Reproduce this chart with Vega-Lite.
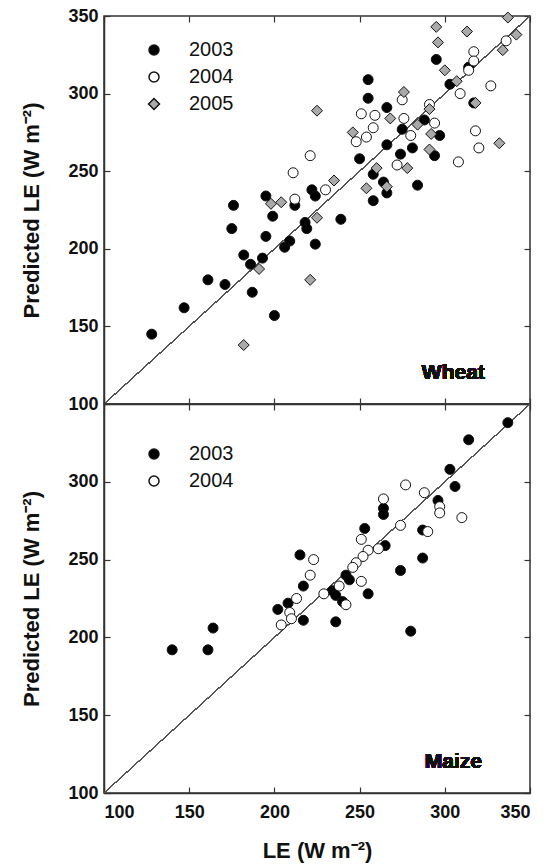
{
  "$schema": "https://vega.github.io/schema/vega-lite/v6.json",
  "background": "white",
  "padding": {"left": 20, "top": 6, "right": 6, "bottom": 1},
  "spacing": 0,
  "bounds": "flush",
  "config": {
    "font": "Liberation Sans",
    "view": {"stroke": "#333", "strokeWidth": 1.5},
    "axis": {
      "grid": false,
      "minExtent": 0,
      "labelFont": "Liberation Sans",
      "labelFontWeight": "bold",
      "labelFontSize": 18,
      "labelColor": "#111",
      "titleFont": "Liberation Sans",
      "titleFontWeight": "bold",
      "titleFontSize": 22,
      "titleColor": "#111",
      "domainColor": "#333",
      "domainWidth": 1.5,
      "tickColor": "#333",
      "tickWidth": 1.2
    }
  },
  "resolve": {
    "scale": {"shape": "independent", "fill": "independent"},
    "legend": {"shape": "independent", "fill": "independent"}
  },
  "vconcat": [
    {
      "width": 426,
      "height": 388,
      "data": {"values": [
        {"le":128,"pred":145,"year":"2003"},{"le":147,"pred":162,"year":"2003"},{"le":161,"pred":180,"year":"2003"},{"le":171,"pred":177,"year":"2003"},{"le":187,"pred":172,"year":"2003"},{"le":200,"pred":157,"year":"2003"},{"le":182,"pred":196,"year":"2003"},{"le":186,"pred":190,"year":"2003"},{"le":193,"pred":194,"year":"2003"},{"le":175,"pred":213,"year":"2003"},{"le":176,"pred":228,"year":"2003"},{"le":195,"pred":208,"year":"2003"},{"le":199,"pred":221,"year":"2003"},{"le":195,"pred":234,"year":"2003"},{"le":206,"pred":201,"year":"2003"},{"le":209,"pred":205,"year":"2003"},{"le":212,"pred":228,"year":"2003"},{"le":218,"pred":217,"year":"2003"},{"le":219,"pred":213,"year":"2003"},{"le":224,"pred":203,"year":"2003"},{"le":222,"pred":238,"year":"2003"},{"le":224,"pred":234,"year":"2003"},{"le":239,"pred":219,"year":"2003"},{"le":258,"pred":231,"year":"2003"},{"le":250,"pred":258,"year":"2003"},{"le":258,"pred":248,"year":"2003"},{"le":264,"pred":243,"year":"2003"},{"le":266,"pred":236,"year":"2003"},{"le":284,"pred":241,"year":"2003"},{"le":274,"pred":261,"year":"2003"},{"le":266,"pred":267,"year":"2003"},{"le":281,"pred":265,"year":"2003"},{"le":294,"pred":260,"year":"2003"},{"le":275,"pred":277,"year":"2003"},{"le":297,"pred":273,"year":"2003"},{"le":288,"pred":283,"year":"2003"},{"le":266,"pred":291,"year":"2003"},{"le":255,"pred":297,"year":"2003"},{"le":317,"pred":294,"year":"2003"},{"le":303,"pred":306,"year":"2003"},{"le":255,"pred":309,"year":"2003"},{"le":314,"pred":317,"year":"2003"},{"le":295,"pred":322,"year":"2003"},
        {"le":221,"pred":260,"year":"2004"},{"le":211,"pred":249,"year":"2004"},{"le":212,"pred":232,"year":"2004"},{"le":336,"pred":334,"year":"2004"},{"le":317,"pred":327,"year":"2004"},{"le":317,"pred":321,"year":"2004"},{"le":314,"pred":315,"year":"2004"},{"le":327,"pred":305,"year":"2004"},{"le":309,"pred":300,"year":"2004"},{"le":275,"pred":296,"year":"2004"},{"le":291,"pred":293,"year":"2004"},{"le":251,"pred":287,"year":"2004"},{"le":259,"pred":286,"year":"2004"},{"le":276,"pred":284,"year":"2004"},{"le":258,"pred":278,"year":"2004"},{"le":294,"pred":281,"year":"2004"},{"le":248,"pred":269,"year":"2004"},{"le":254,"pred":272,"year":"2004"},{"le":280,"pred":273,"year":"2004"},{"le":318,"pred":276,"year":"2004"},{"le":320,"pred":265,"year":"2004"},{"le":308,"pred":256,"year":"2004"},{"le":272,"pred":254,"year":"2004"},{"le":230,"pred":238,"year":"2004"},
        {"le":337,"pred":349,"year":"2005"},{"le":295,"pred":343,"year":"2005"},{"le":313,"pred":340,"year":"2005"},{"le":342,"pred":338,"year":"2005"},{"le":296,"pred":333,"year":"2005"},{"le":334,"pred":328,"year":"2005"},{"le":300,"pred":315,"year":"2005"},{"le":307,"pred":308,"year":"2005"},{"le":276,"pred":301,"year":"2005"},{"le":318,"pred":294,"year":"2005"},{"le":291,"pred":290,"year":"2005"},{"le":225,"pred":289,"year":"2005"},{"le":268,"pred":284,"year":"2005"},{"le":284,"pred":280,"year":"2005"},{"le":246,"pred":275,"year":"2005"},{"le":292,"pred":274,"year":"2005"},{"le":291,"pred":264,"year":"2005"},{"le":332,"pred":268,"year":"2005"},{"le":260,"pred":252,"year":"2005"},{"le":278,"pred":252,"year":"2005"},{"le":235,"pred":244,"year":"2005"},{"le":254,"pred":239,"year":"2005"},{"le":266,"pred":240,"year":"2005"},{"le":225,"pred":220,"year":"2005"},{"le":198,"pred":229,"year":"2005"},{"le":204,"pred":230,"year":"2005"},{"le":191,"pred":187,"year":"2005"},{"le":221,"pred":180,"year":"2005"},{"le":182,"pred":138,"year":"2005"}
      ]},
      "layer": [
        {
          "mark": {"type": "rule", "color": "#555", "strokeWidth": 1},
          "encoding": {
            "x": {"datum": 100, "type": "quantitative", "scale": {"domain": [100, 350], "nice": false, "zero": false},
                  "axis": {"orient": "top", "labels": false, "title": null, "domain": false, "tickSize": -6, "values": [100,150,200,250,300,350]}},
            "y": {"datum": 100, "type": "quantitative", "scale": {"domain": [100, 350], "nice": false, "zero": false},
                  "axis": {"orient": "right", "labels": false, "title": null, "domain": false, "tickSize": -6, "values": [100,150,200,250,300,350]}},
            "x2": {"datum": 350},
            "y2": {"datum": 350}
          }
        },
        {
          "mark": {"type": "point", "filled": true, "stroke": "#111", "strokeWidth": 1, "size": 100, "opacity": 1},
          "encoding": {
            "x": {"field": "le", "type": "quantitative", "scale": {"domain": [100, 350], "nice": false, "zero": false},
                  "axis": {"orient": "bottom", "labels": false, "title": null, "tickSize": -6, "values": [100,150,200,250,300,350]}},
            "y": {"field": "pred", "type": "quantitative", "scale": {"domain": [100, 350], "nice": false, "zero": false},
                  "axis": {"orient": "left", "title": "Predicted LE (W m⁻²)", "tickSize": -6, "labelPadding": 12, "titlePadding": 24, "values": [100,150,200,250,300,350]}},
            "shape": {"field": "year", "type": "nominal", "scale": {"domain": ["2003","2004","2005"], "range": ["circle","circle","M-1.1,0L0,-1.1L1.1,0L0,1.1Z"]},
                      "legend": {"title": null, "orient": "none", "legendX": 40, "legendY": 24, "padding": 0, "labelFontSize": 20, "labelFont": "Liberation Sans", "labelColor": "#111", "labelOffset": 25, "rowPadding": 7, "symbolSize": 100,
                                 "encode": {"symbols": {"update": {"stroke": {"value": "#111"}, "strokeWidth": {"value": 1}}}}}},
            "fill": {"field": "year", "type": "nominal", "scale": {"domain": ["2003","2004","2005"], "range": ["#000000","#ffffff","#a9a9a9"]},
                     "legend": {"title": null, "orient": "none", "legendX": 40, "legendY": 24, "padding": 0, "labelFontSize": 20, "labelFont": "Liberation Sans", "labelColor": "#111", "labelOffset": 25, "rowPadding": 7, "symbolSize": 100,
                                "encode": {"symbols": {"update": {"stroke": {"value": "#111"}, "strokeWidth": {"value": 1}}}}}}
          }
        },
        {
          "mark": {"type": "text", "text": "Wheat", "fontWeight": "bold", "fontSize": 21, "font": "Liberation Sans", "fill": "#111", "opacity": 0.99, "align": "center", "baseline": "middle"},
          "encoding": {
            "x": {"datum": 305, "type": "quantitative", "axis": null},
            "y": {"datum": 120, "type": "quantitative", "axis": null}
          }
        }
      ],
      "resolve": {"axis": {"x": "independent", "y": "independent"}}
    },
    {
      "width": 426,
      "height": 389,
      "data": {"values": [
        {"le":337,"pred":338,"year":"2003"},{"le":314,"pred":327,"year":"2003"},{"le":303,"pred":308,"year":"2003"},{"le":306,"pred":297,"year":"2003"},{"le":264,"pred":283,"year":"2003"},{"le":264,"pred":279,"year":"2003"},{"le":296,"pred":288,"year":"2003"},{"le":287,"pred":269,"year":"2003"},{"le":253,"pred":270,"year":"2003"},{"le":265,"pred":259,"year":"2003"},{"le":287,"pred":251,"year":"2003"},{"le":274,"pred":243,"year":"2003"},{"le":242,"pred":240,"year":"2003"},{"le":244,"pred":237,"year":"2003"},{"le":234,"pred":230,"year":"2003"},{"le":236,"pred":227,"year":"2003"},{"le":240,"pred":223,"year":"2003"},{"le":255,"pred":228,"year":"2003"},{"le":217,"pred":211,"year":"2003"},{"le":236,"pred":210,"year":"2003"},{"le":280,"pred":204,"year":"2003"},{"le":215,"pred":253,"year":"2003"},{"le":217,"pred":233,"year":"2003"},{"le":208,"pred":222,"year":"2003"},{"le":202,"pred":218,"year":"2003"},{"le":164,"pred":206,"year":"2003"},{"le":140,"pred":192,"year":"2003"},{"le":161,"pred":192,"year":"2003"},
        {"le":277,"pred":298,"year":"2004"},{"le":288,"pred":293,"year":"2004"},{"le":264,"pred":289,"year":"2004"},{"le":297,"pred":284,"year":"2004"},{"le":297,"pred":280,"year":"2004"},{"le":310,"pred":277,"year":"2004"},{"le":274,"pred":272,"year":"2004"},{"le":290,"pred":268,"year":"2004"},{"le":251,"pred":263,"year":"2004"},{"le":261,"pred":257,"year":"2004"},{"le":255,"pred":256,"year":"2004"},{"le":252,"pred":252,"year":"2004"},{"le":248,"pred":248,"year":"2004"},{"le":246,"pred":245,"year":"2004"},{"le":251,"pred":236,"year":"2004"},{"le":229,"pred":228,"year":"2004"},{"le":238,"pred":233,"year":"2004"},{"le":242,"pred":221,"year":"2004"},{"le":223,"pred":250,"year":"2004"},{"le":221,"pred":240,"year":"2004"},{"le":213,"pred":225,"year":"2004"},{"le":209,"pred":216,"year":"2004"},{"le":210,"pred":212,"year":"2004"},{"le":204,"pred":208,"year":"2004"}
      ]},
      "layer": [
        {
          "mark": {"type": "rule", "color": "#555", "strokeWidth": 1},
          "encoding": {
            "x": {"datum": 100, "type": "quantitative", "scale": {"domain": [100, 350], "nice": false, "zero": false},
                  "axis": {"orient": "top", "labels": false, "title": null, "domain": false, "tickSize": -6, "values": [100,150,200,250,300,350]}},
            "y": {"datum": 100, "type": "quantitative", "scale": {"domain": [100, 350], "nice": false, "zero": false},
                  "axis": {"orient": "right", "labels": false, "title": null, "domain": false, "tickSize": -6, "values": [100,150,200,250,300]}},
            "x2": {"datum": 350},
            "y2": {"datum": 350}
          }
        },
        {
          "mark": {"type": "point", "filled": true, "stroke": "#111", "strokeWidth": 1, "size": 100, "opacity": 1},
          "encoding": {
            "x": {"field": "le", "type": "quantitative", "scale": {"domain": [100, 350], "nice": false, "zero": false},
                  "axis": {"orient": "bottom", "title": "LE (W m⁻²)", "tickSize": -6, "labelPadding": 16, "titlePadding": 19, "values": [100,150,200,250,300,350]}},
            "y": {"field": "pred", "type": "quantitative", "scale": {"domain": [100, 350], "nice": false, "zero": false},
                  "axis": {"orient": "left", "title": "Predicted LE (W m⁻²)", "tickSize": -6, "labelPadding": 12, "titlePadding": 24, "values": [100,150,200,250,300]}},
            "shape": {"field": "year", "type": "nominal", "scale": {"domain": ["2003","2004"], "range": ["circle","circle"]},
                      "legend": {"title": null, "orient": "none", "legendX": 40, "legendY": 40, "padding": 0, "labelFontSize": 20, "labelFont": "Liberation Sans", "labelColor": "#111", "labelOffset": 25, "rowPadding": 7, "symbolSize": 100,
                                 "encode": {"symbols": {"update": {"stroke": {"value": "#111"}, "strokeWidth": {"value": 1}}}}}},
            "fill": {"field": "year", "type": "nominal", "scale": {"domain": ["2003","2004"], "range": ["#000000","#ffffff"]},
                     "legend": {"title": null, "orient": "none", "legendX": 40, "legendY": 40, "padding": 0, "labelFontSize": 20, "labelFont": "Liberation Sans", "labelColor": "#111", "labelOffset": 25, "rowPadding": 7, "symbolSize": 100,
                                "encode": {"symbols": {"update": {"stroke": {"value": "#111"}, "strokeWidth": {"value": 1}}}}}}
          }
        },
        {
          "mark": {"type": "text", "text": "Maize", "fontWeight": "bold", "fontSize": 21, "font": "Liberation Sans", "fill": "#111", "opacity": 0.99, "align": "center", "baseline": "middle"},
          "encoding": {
            "x": {"datum": 305, "type": "quantitative", "axis": null},
            "y": {"datum": 120, "type": "quantitative", "axis": null}
          }
        }
      ],
      "resolve": {"axis": {"x": "independent", "y": "independent"}}
    }
  ]
}
